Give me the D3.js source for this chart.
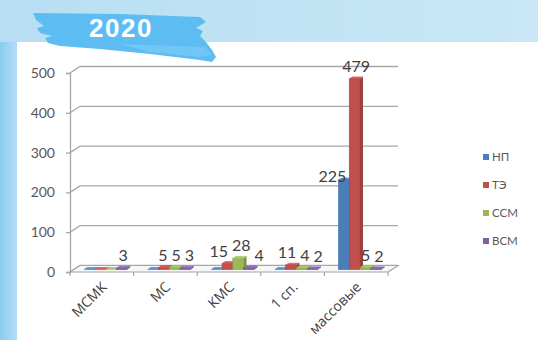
<!DOCTYPE html>
<html>
<head>
<meta charset="utf-8">
<script src="https://cdn.jsdelivr.net/npm/d3@7/dist/d3.min.js"></script>
<style>
  html, body { margin: 0; padding: 0; background: #fff; overflow: hidden; }
  svg { display: block; }
</style>
</head>
<body>
<svg id="chart" width="538" height="340"></svg>
<script>
// Athletes by qualification level, 2020
const title = "2020";
const categories = ["МСМК", "МС", "КМС", "1 сп.", "массовые"];
const seriesNames = ["НП", "ТЭ", "ССМ", "ВСМ"];
const valuesNP  = [0, 0, 0, 0, 225];
const valuesTE  = [0, 5, 15, 11, 479];
const valuesSSM = [0, 5, 28, 4, 5];
const valuesVSM = [3, 3, 4, 2, 2];
const yTicks = [0, 100, 200, 300, 400, 500];

const seriesValues = [valuesNP, valuesTE, valuesSSM, valuesVSM];
const seriesColors = ["#4a7ebb", "#c0504d", "#98b954", "#7f62a1"];

const W = 538, H = 340;
const svg = d3.select("#chart");
const defs = svg.append("defs");

// ---- page background ----
const topGrad = defs.append("linearGradient").attr("id", "topGrad")
  .attr("x1", 0).attr("x2", 1).attr("y1", 0).attr("y2", 0);
topGrad.append("stop").attr("offset", 0).attr("stop-color", "#b8def3");
topGrad.append("stop").attr("offset", 1).attr("stop-color", "#c9e7f5");
const sideGrad = defs.append("linearGradient").attr("id", "sideGrad")
  .attr("x1", 0).attr("x2", 1).attr("y1", 0).attr("y2", 0);
sideGrad.append("stop").attr("offset", 0).attr("stop-color", "#8ccbf0");
sideGrad.append("stop").attr("offset", 1).attr("stop-color", "#b4def6");

svg.append("rect").attr("width", W).attr("height", 42).attr("fill", "url(#topGrad)");
svg.append("rect").attr("y", 42).attr("width", 17).attr("height", H - 42).attr("fill", "url(#sideGrad)");
svg.append("rect").attr("x", 17).attr("y", 42).attr("width", W - 17).attr("height", H - 42).attr("fill", "#ffffff");

// ---- title ribbon ----
svg.append("path")
  .attr("d", "M33,13 L120,14 L200,17 L206,22 L196,28 L203,31 L200,36 L206,42 L212,50 L216,57 L212,62 L200,60 L150,54 L100,49 L60,46 L48,43 L45,38 L52,36 L40,33 L37,28 L44,26 L36,20 Z")
  .attr("fill", "#5dbdf2");
svg.append("path")
  .attr("d", "M120,44 L205,47 L212,55 L200,57 L150,52 Z")
  .attr("fill", "#7ccbf6").attr("opacity", 0.7);
svg.append("text")
  .attr("x", 121).attr("y", 37)
  .attr("text-anchor", "middle")
  .attr("font-family", "'Liberation Sans', Arial, sans-serif")
  .attr("font-weight", "bold")
  .attr("font-size", 26)
  .attr("letter-spacing", 1.5)
  .attr("fill", "#ffffff")
  .text(title);

// ---- chart geometry ----
const DX = 10, DY = -6.5;          // depth offset of the back wall
const x = d3.scaleBand().domain(categories).range([70, 388]).paddingInner(0).paddingOuter(0);
const groupW = 43;
const x1 = d3.scaleBand().domain(seriesNames).range([0, groupW]);
const y = d3.scaleLinear().domain([0, 500]).range([272, 73]);
const barF = 0.38;                 // depth position of bar front face
const bDX = 3, bDY = -2;          // bar depth

const g = svg.append("g");
const font = "Lato, 'Open Sans', sans-serif";
const catFont = "'Open Sans', Lato, sans-serif";

// left wall and back wall gridlines
yTicks.forEach(t => {
  const yy = y(t);
  g.append("path")
    .attr("d", `M${x.range()[0]},${yy} L${x.range()[0] + DX},${yy + DY} L${x.range()[1] + DX},${yy + DY}`)
    .attr("fill", "none").attr("stroke", "#a6a6a6").attr("stroke-width", 1.3);
});

// floor
const x0 = x.range()[0], xEnd = x.range()[1];
g.append("path")
  .attr("d", `M${x0},${y(0)} L${xEnd},${y(0)} L${xEnd + DX},${y(0) + DY} L${x0 + DX},${y(0) + DY} Z`)
  .attr("fill", "#f7f7f7").attr("stroke", "#a6a6a6").attr("stroke-width", 1.2);

// vertical axis
const yAxis = d3.axisLeft(y).tickValues(yTicks).tickSize(4).tickPadding(11);
const yAxisG = g.append("g").attr("transform", `translate(${x0},0)`).call(yAxis);
yAxisG.select(".domain").attr("stroke", "#a6a6a6").attr("stroke-width", 1.3);
yAxisG.selectAll(".tick line").attr("stroke", "#a6a6a6").attr("stroke-width", 1.3);
yAxisG.selectAll(".tick text")
  .attr("font-family", font).attr("font-size", 14).attr("fill", "#595959");

// category axis
const xAxis = d3.axisBottom(x).tickSize(0).tickFormat("");
const xAxisG = g.append("g").attr("transform", `translate(0,${y(0)})`).call(xAxis);
xAxisG.select(".domain").remove();
// tick marks on band boundaries
const bounds = categories.map(c => x(c)).concat([xEnd]);
g.selectAll(".xtick").data(bounds).join("line")
  .attr("x1", d => d).attr("x2", d => d)
  .attr("y1", y(0)).attr("y2", y(0) + 4)
  .attr("stroke", "#a6a6a6").attr("stroke-width", 1.2);
g.selectAll(".xlabel").data(categories).join("text")
  .attr("transform", d => `translate(${x(d) + x.bandwidth() / 2 - 1},${y(0) + 9}) rotate(-45)`)
  .attr("text-anchor", "end")
  .attr("dy", "0.7em")
  .attr("font-family", catFont).attr("font-size", 14).attr("fill", "#404040")
  .text(d => d);

// ---- bars ----
function shade(c, k) { return d3.color(c)[k > 0 ? "brighter" : "darker"](Math.abs(k)).formatHex(); }

const barsData = [];
categories.forEach((c, ci) => {
  seriesNames.forEach((s, si) => {
    const v = seriesValues[si][ci];
    const bx = x(c) + (x.bandwidth() - groupW) / 2 + x1(s) + DX * barF;
    const bw = x1.bandwidth();
    const base = y(0) + DY * barF;
    const top = y(v) + DY * barF;
    barsData.push({ c, ci, s, si, v, bx, bw, base, top });
  });
});

const barG = g.append("g");
barsData.forEach(b => {
  const col = seriesColors[b.si];
  // right side
  barG.append("path")
    .attr("d", `M${b.bx + b.bw},${b.base} L${b.bx + b.bw + bDX},${b.base + bDY} L${b.bx + b.bw + bDX},${b.top + bDY} L${b.bx + b.bw},${b.top} Z`)
    .attr("fill", shade(col, -0.6));
  // front
  if (b.v > 0) {
    barG.append("rect")
      .attr("x", b.bx).attr("y", b.top)
      .attr("width", b.bw).attr("height", b.base - b.top)
      .attr("fill", col)
      .attr("stroke", shade(col, -0.4)).attr("stroke-width", 0.6);
  }
  // top
  barG.append("path")
    .attr("d", `M${b.bx},${b.top} L${b.bx + bDX},${b.top + bDY} L${b.bx + b.bw + bDX},${b.top + bDY} L${b.bx + b.bw},${b.top} Z`)
    .attr("fill", shade(col, 0.4))
    .attr("stroke", shade(col, -0.2)).attr("stroke-width", 0.5);
});

// ---- value labels ----
const labelG = g.append("g");
const labels = [];
barsData.filter(b => b.v > 0).forEach(b => {
  const t = labelG.append("text")
    .attr("font-family", font).attr("font-size", 16).attr("fill", "#404040")
    .text(b.v);
  const w = t.node().getComputedTextLength();
  const cx = b.bx + b.bw / 2 + bDX / 2;
  let lab = { b, t, w, cx, ly: b.top + bDY - 5, side: false };
  // a taller neighbour to the right would cover a centred label: set it to the left instead
  const next = barsData.find(o => o.ci === b.ci && o.si === b.si + 1);
  if (next && next.top < lab.ly - 10 && cx + w / 2 > next.bx) {
    lab.side = true;
    lab.cx = b.bx + b.bw - 3 - w / 2;
    lab.ly = b.top + 2;
  }
  labels.push(lab);
});
// spread labels of the same group that would overlap (iterative relaxation)
categories.forEach((c, ci) => {
  const row = labels.filter(l => l.b.ci === ci && !l.side);
  for (let pass = 0; pass < 20; pass++) {
    let moved = false;
    for (let i = 1; i < row.length; i++) {
      const a = row[i - 1], b = row[i];
      if (Math.abs(a.ly - b.ly) > 12) continue;
      const overlap = (a.cx + a.w / 2) - (b.cx - b.w / 2) + 4;
      if (overlap > 0.1) { a.cx -= overlap / 2; b.cx += overlap / 2; moved = true; }
    }
    if (!moved) break;
  }
});
labels.forEach(l => l.t.attr("x", l.cx).attr("y", l.ly).attr("text-anchor", "middle"));

// ---- legend ----
const legend = svg.append("g");
const legendY = [157, 185, 213, 241];
seriesNames.forEach((s, i) => {
  legend.append("rect")
    .attr("x", 483).attr("y", legendY[i] - 3)
    .attr("width", 6).attr("height", 6)
    .attr("fill", seriesColors[i]);
  legend.append("text")
    .attr("x", 492).attr("y", legendY[i])
    .attr("dy", "0.35em")
    .attr("font-family", font).attr("font-size", 11.5).attr("fill", "#595959")
    .text(s);
});
</script>
</body>
</html>
